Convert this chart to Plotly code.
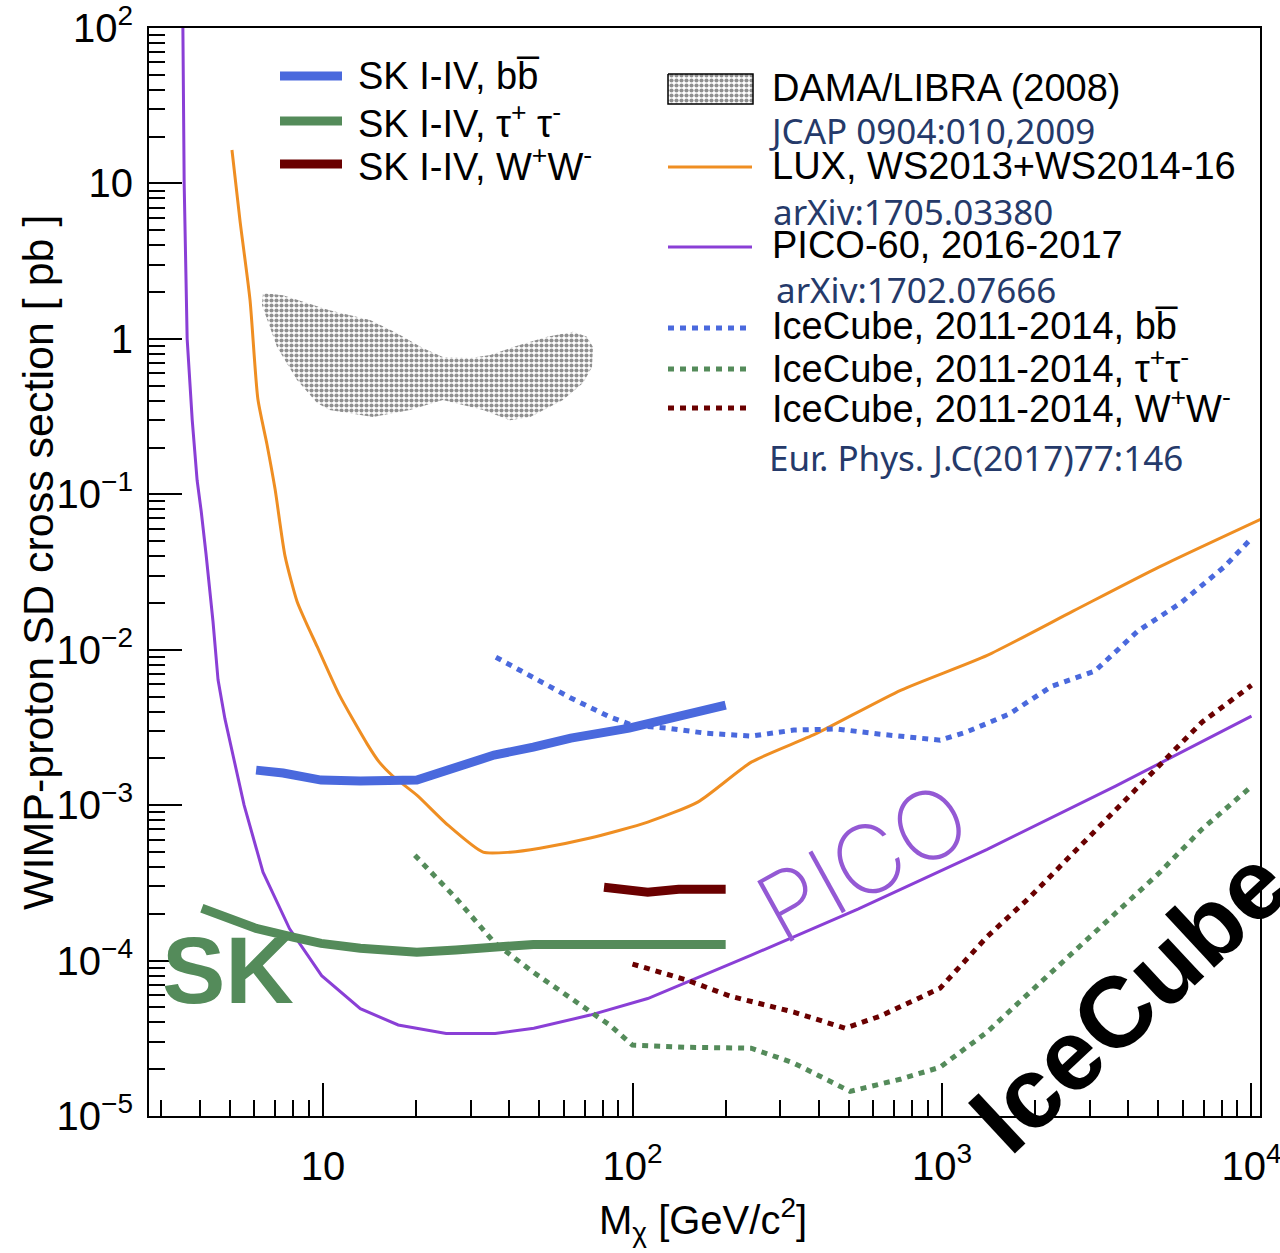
import plotly.graph_objects as go

# ---------------- data (mass in GeV/c^2, cross section in pb) ----------------
pico_m = [3.52, 3.56, 3.64, 3.78, 3.92, 4.04, 4.19, 4.41, 4.58, 4.82, 5.56, 6.4, 7.8, 9.9,
          13.2, 17.5, 25, 36, 48, 73, 112, 241, 535, 1400, 3650, 10000]
pico_xs = [150, 10, 1.0, 0.30, 0.123, 0.078, 0.041, 0.0153, 0.0064, 0.0036, 1.0e-3, 3.7e-4,
           1.6e-4, 8.0e-5, 4.9e-5, 3.85e-5, 3.4e-5, 3.4e-5, 3.67e-5, 4.46e-5, 5.7e-5,
           1.08e-4, 2.14e-4, 5.2e-4, 1.33e-3, 3.74e-3]

lux_m = [5.08, 5.39, 5.81, 6.16, 6.59, 7.0, 7.54, 8.24, 8.81, 9.57, 11.3, 13.9, 15.2, 16.8,
         20.1, 25.4, 32.9, 40.2, 50.2, 73, 112, 163, 242, 389, 738, 1400, 2650, 5020, 10700]
lux_xs = [16.4, 5.8, 1.78, 0.41, 0.21, 0.108, 0.040, 0.0205, 0.0150, 0.0105, 0.0051, 0.00247,
          0.00189, 0.00154, 0.00116, 7.4e-4, 4.98e-4, 4.98e-4, 5.28e-4, 6.14e-4, 7.78e-4,
          1.05e-3, 1.89e-3, 2.86e-3, 5.5e-3, 9.2e-3, 0.0177, 0.034, 0.069]

dama_m = [6.40, 7.43, 10.5, 14.2, 17.3, 21.0, 24.4, 29.9, 34.7, 41.1, 53.0, 64.3, 71.3, 74.5,
          74.0, 69.2, 59.6, 46.7, 40.2, 32.9, 24.4, 19.1, 14.5, 10.5, 9.57, 8.24, 7.10, 6.59,
          6.35, 6.40]
dama_xs = [1.97, 1.91, 1.53, 1.32, 1.09, 0.873, 0.764, 0.752, 0.787, 0.885, 1.03, 1.11, 1.03,
           0.885, 0.659, 0.520, 0.404, 0.314, 0.300, 0.348, 0.404, 0.348, 0.314, 0.348, 0.386,
           0.543, 0.885, 1.32, 1.65, 1.97]

sk_bb_m = [6.08, 7.43, 9.86, 13.2, 20.1, 23.9, 35.7, 47.8, 63.2, 97.5, 200]
sk_bb_xs = [1.68e-3, 1.61e-3, 1.45e-3, 1.43e-3, 1.45e-3, 1.63e-3, 2.10e-3, 2.36e-3, 2.70e-3,
            3.13e-3, 4.4e-3]

sk_tt_m = [4.06, 4.82, 6.08, 8.06, 9.86, 13.2, 20.1, 26.9, 35.7, 47.8, 200]
sk_tt_xs = [2.17e-4, 1.90e-4, 1.61e-4, 1.41e-4, 1.29e-4, 1.20e-4, 1.13e-4, 1.17e-4, 1.22e-4,
            1.27e-4, 1.27e-4]

sk_ww_m = [80.9, 97.5, 112, 141, 200]
sk_ww_xs = [2.96e-4, 2.84e-4, 2.75e-4, 2.88e-4, 2.88e-4]

ic_bb_m = [36.2, 47.8, 63.2, 84.5, 100, 129, 173, 242, 332, 458, 631, 986, 1197, 1646, 2265,
           3118, 4295, 5912, 8144, 10000]
ic_bb_xs = [8.95e-3, 6.67e-3, 4.89e-3, 3.69e-3, 3.27e-3, 3.13e-3, 2.90e-3, 2.78e-3, 3.04e-3,
            3.09e-3, 2.86e-3, 2.62e-3, 2.95e-3, 3.85e-3, 5.83e-3, 7.28e-3, 0.0132, 0.020,
            0.034, 0.052]

ic_tt_m = [19.8, 26.9, 35.7, 47.8, 63.2, 84.5, 100, 149, 242, 332, 505, 738, 986, 1397, 1923,
           2648, 3647, 5023, 6918, 10000]
ic_tt_xs = [4.76e-4, 2.52e-4, 1.31e-4, 8.41e-5, 5.73e-5, 3.84e-5, 2.86e-5, 2.77e-5, 2.73e-5,
            2.19e-5, 1.44e-5, 1.73e-5, 2.06e-5, 3.46e-5, 6.26e-5, 1.13e-4, 2.02e-4, 3.65e-4,
            7.0e-4, 1.32e-3]

ic_ww_m = [100, 150, 207, 332, 486, 631, 986, 1397, 1923, 2648, 3647, 5023, 6918, 10000]
ic_ww_xs = [9.5e-5, 7.48e-5, 5.90e-5, 4.66e-5, 3.67e-5, 4.39e-5, 6.64e-5, 1.42e-4, 2.56e-4,
            4.91e-4, 9.3e-4, 1.78e-3, 3.42e-3, 5.9e-3]

x_tickvals = [10, 100, 1000, 10000]
x_ticktext = ["10", "10<sup>2</sup>", "10<sup>3</sup>", "10<sup>4</sup>"]
y_tickvals = [1e-5, 1e-4, 1e-3, 1e-2, 1e-1, 1, 10, 100]
y_ticktext = ["10<sup>\u22125</sup>", "10<sup>\u22124</sup>", "10<sup>\u22123</sup>",
              "10<sup>\u22122</sup>", "10<sup>\u22121</sup>", "1", "10", "10<sup>2</sup>"]

# ---------------- styles ----------------
BLUE = "#4a69dd"
GREEN = "#548b5a"
DRED = "#6a0000"
PURPLE = "#8a3fd6"
ORANGE = "#ef8e22"
NAVY = "#253a6a"
DOT = "6px,6px"

W, H = 1280, 1253
L, R, T, B = 149, 20, 28, 137
PW, PH = W - L - R, H - T - B


def fx(p):
    return (p - L) / PW


def fy(p):
    return (H - B - p) / PH


PATTERN = dict(shape=".", fgcolor="#222222", bgcolor="white", size=5, solidity=0.55)

fig = go.Figure()

fig.add_trace(go.Scatter(x=dama_m, y=dama_xs, mode="lines", fill="toself",
                         line=dict(width=0, color="rgba(0,0,0,0)"),
                         fillcolor="white", fillpattern=PATTERN,
                         hoverinfo="skip", showlegend=False))
fig.add_trace(go.Scatter(x=lux_m, y=lux_xs, mode="lines",
                         line=dict(color=ORANGE, width=3, shape="spline", smoothing=0.6),
                         showlegend=False))
fig.add_trace(go.Scatter(x=pico_m, y=pico_xs, mode="lines", line=dict(color=PURPLE, width=3),
                         showlegend=False))
fig.add_trace(go.Scatter(x=ic_bb_m, y=ic_bb_xs, mode="lines",
                         line=dict(color=BLUE, width=5, dash=DOT), showlegend=False))
fig.add_trace(go.Scatter(x=ic_tt_m, y=ic_tt_xs, mode="lines",
                         line=dict(color=GREEN, width=5, dash=DOT), showlegend=False))
fig.add_trace(go.Scatter(x=ic_ww_m, y=ic_ww_xs, mode="lines",
                         line=dict(color=DRED, width=5, dash=DOT), showlegend=False))
fig.add_trace(go.Scatter(x=sk_bb_m, y=sk_bb_xs, mode="lines", line=dict(color=BLUE, width=9),
                         showlegend=False))
fig.add_trace(go.Scatter(x=sk_tt_m, y=sk_tt_xs, mode="lines", line=dict(color=GREEN, width=9),
                         showlegend=False))
fig.add_trace(go.Scatter(x=sk_ww_m, y=sk_ww_xs, mode="lines", line=dict(color=DRED, width=9),
                         showlegend=False))

# legend sample box for DAMA (overlay axes in plot-fraction units)
bx = [fx(668), fx(753), fx(753), fx(668), fx(668)]
by = [fy(74), fy(74), fy(104), fy(104), fy(74)]
fig.add_trace(go.Scatter(x=bx, y=by, xaxis="x2", yaxis="y2", mode="lines", fill="toself",
                         line=dict(color="black", width=1.5), fillcolor="white",
                         fillpattern=PATTERN, hoverinfo="skip", showlegend=False))

shapes = []


def lshape(x0, x1, y, color, width, dash="solid"):
    shapes.append(dict(type="line", xref="paper", yref="paper", x0=fx(x0), x1=fx(x1),
                       y0=fy(y), y1=fy(y), line=dict(color=color, width=width, dash=dash)))


lshape(280, 342, 76, BLUE, 9)
lshape(280, 342, 121, GREEN, 9)
lshape(280, 342, 164, DRED, 9)
lshape(668, 752, 167, ORANGE, 3)
lshape(668, 752, 247, PURPLE, 3)
lshape(668, 752, 328, BLUE, 5, DOT)
lshape(668, 752, 369, GREEN, 5, DOT)
lshape(668, 752, 408, DRED, 5, DOT)

annotations = []
TXT = dict(family="Liberation Sans, Arial, sans-serif", size=38, color="black")
REF = dict(family="Noto Sans, sans-serif", size=35, color=NAVY)


def txt(x, y, s, font, xanchor="left", **kw):
    annotations.append(dict(x=fx(x), y=fy(y), xref="paper", yref="paper", text=s,
                            showarrow=False, xanchor=xanchor, yanchor="middle", font=font,
                            **kw))


bbar = "b\u0305"
txt(356, 76, "SK I-IV, b" + bbar, TXT)
txt(356, 121, "SK I-IV, \u03c4<sup>+</sup> \u03c4<sup>-</sup>", TXT)
txt(356, 164, "SK I-IV, W<sup>+</sup>W<sup>-</sup>", TXT)
txt(770, 88, "DAMA/LIBRA (2008)", TXT)
txt(767, 130, "JCAP 0904:010,2009", REF)
txt(770, 166, "LUX, WS2013+WS2014-16", TXT)
txt(771, 211, "arXiv:1705.03380", REF)
txt(770, 245, "PICO-60, 2016-2017", TXT)
txt(774, 289, "arXiv:1702.07666", REF)
txt(770, 326, "IceCube, 2011-2014, b" + bbar, TXT)
txt(770, 366, "IceCube, 2011-2014, \u03c4<sup>+</sup>\u03c4<sup>-</sup>", TXT)
txt(770, 406, "IceCube, 2011-2014, W<sup>+</sup>W<sup>-</sup>", TXT)
txt(767, 457, "Eur. Phys. J.C(2017)77:146", REF)

txt(228, 970, "<b>SK</b>", dict(family="Liberation Sans, Arial", size=95, color=GREEN),
    xanchor="center")
txt(862, 862, "PICO", dict(family="Inter, Lato, sans-serif", size=95, color="#9459d4",
                           weight=200), xanchor="center", textangle=-29)
txt(1128, 1000, "<b>IceCube</b>", dict(family="Liberation Sans, Arial", size=100,
                                       color="black"), xanchor="center", textangle=-43)

# axis titles
txt(38, 563, "WIMP-proton SD cross section [ pb ]",
    dict(family="Liberation Sans, Arial", size=43, color="black"), xanchor="center",
    textangle=-90)
txt(703, 1220, "M<sub>\u03c7</sub> [GeV/c<sup>2</sup>]",
    dict(family="Liberation Sans, Arial", size=40, color="black"), xanchor="center")

axis_common = dict(showgrid=False, zeroline=False, showline=True, linecolor="black",
                   linewidth=2, mirror=True, ticks="inside", tickwidth=2, tickcolor="black",
                   ticklen=33, automargin=False, ticklabeloverflow="allow",
                   tickfont=dict(family="Liberation Sans, Arial", size=40, color="black"),
                   minor=dict(ticks="inside", ticklen=16, tickwidth=2, tickcolor="black",
                              dtick="D1", showgrid=False))

fig.update_layout(
    width=W, height=H,
    margin=dict(l=L, r=R, t=T, b=B, autoexpand=False),
    paper_bgcolor="white", plot_bgcolor="white",
    showlegend=False,
    xaxis=dict(type="log", range=[0.4378, 4.0275], tickvals=x_tickvals, ticktext=x_ticktext,
               ticklabelstandoff=14, **axis_common),
    yaxis=dict(type="log", range=[-5.0, 2.0], tickvals=y_tickvals, ticktext=y_ticktext,
               ticklabelstandoff=6, **axis_common),
    xaxis2=dict(overlaying="x", anchor="y2", range=[0, 1], visible=False, fixedrange=True),
    yaxis2=dict(overlaying="y", anchor="x2", range=[0, 1], visible=False, fixedrange=True),
    shapes=shapes,
    annotations=annotations,
)

fig.write_html("out.html")
